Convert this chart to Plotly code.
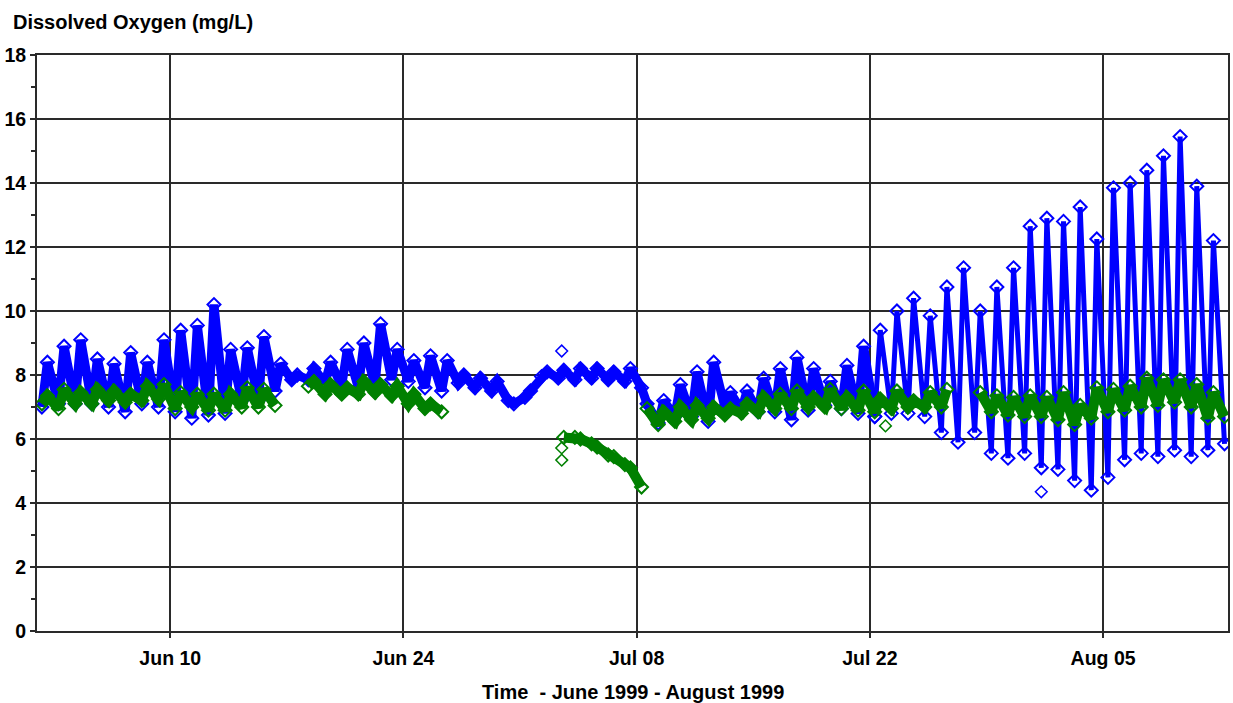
import datetime as dt
import plotly.graph_objects as go

# Daily readings, one pair per day starting 2 June 1999:
# the early-morning low (about 07:00) and the afternoon high (about 15:00).
START = dt.datetime(1999, 6, 2)

blue_low = [7.0, 7.1, 7.1, 7.1, 7.0, 6.85, 7.1, 7.0, 6.85, 6.65,
            6.75, 6.8, 7.2, 7.2, 7.5, 7.85, 7.85, 7.75, 7.65, 7.6,
            7.65, 7.85, 7.8, 7.6, 7.5, 7.75, 7.6, 7.5, 7.2, 7.3,
            7.95, 7.9, 7.85, 7.9, 7.85, 7.8, 7.6, 6.5, 6.7, 6.7,
            6.55, 7.0, 6.9, 6.85, 6.85, 6.6, 6.9, 7.05, 6.95, 6.8,
            6.7, 6.8, 6.8, 6.7, 6.2, 5.9, 6.2, 5.55, 5.4, 5.55,
            5.1, 5.05, 4.7, 4.4, 4.8, 5.35, 5.55, 5.45, 5.65, 5.45,
            5.65, 5.85]
blue_high = [8.4, 8.9, 9.1, 8.5, 8.35, 8.7, 8.4, 9.1, 9.4, 9.55,
             10.2, 8.8, 8.85, 9.2, 8.35, 8.0, 8.2, 8.4, 8.8, 9.0,
             9.6, 8.8, 8.45, 8.6, 8.45, 8.0, 7.9, 7.8, 7.1, 7.5,
             8.1, 8.15, 8.2, 8.2, 8.1, 8.2, 7.1, 7.2, 7.7, 8.1,
             8.4, 7.45, 7.5, 7.9, 8.2, 8.55, 8.2, 7.8, 8.3, 8.9,
             9.4, 10.0, 10.4, 9.85, 10.75, 11.35, 10.0, 10.75, 11.35, 12.65,
             12.9, 12.8, 13.25, 12.25, 13.85, 14.0, 14.4, 14.85, 15.45, 13.9,
             12.2, None]

green_low = [7.1, 6.95, 7.1, 7.1, 7.2, 7.15, 7.2, 7.25, 6.95, 7.0,
             6.9, 6.9, 7.0, 7.0, 7.05, None, 7.65, 7.4, 7.4, 7.4,
             7.45, 7.35, 7.1, 6.95, 6.85, None, None, None, None, None,
             None, None, 6.05, 5.85, 5.5, 5.2, 4.5, 6.45, 6.55, 6.6,
             6.65, 6.75, 6.8, 6.85, 6.95, 6.95, 7.0, 7.0, 6.95, 6.9,
             6.85, 6.95, 7.0, 7.0, 7.0, None, None, 6.85, 6.75, 6.7,
             6.7, 6.6, 6.45, 6.65, 6.85, 6.9, 7.0, 7.05, 7.15, 7.0,
             6.65, 6.7]
green_high = [7.35, 7.55, 7.45, 7.55, 7.5, 7.4, 7.65, 7.7, 7.45, 7.4,
              7.4, 7.4, 7.6, 7.55, None, None, 7.8, 7.7, 7.6, 7.8,
              7.7, 7.65, 7.4, 7.1, None, None, None, None, None, None,
              None, 6.05, 6.0, 5.75, 5.45, 5.1, 6.95, 6.85, 7.0, 7.05,
              7.0, 6.95, 7.1, 7.3, 7.4, 7.5, 7.3, 7.55, 7.3, 7.5,
              7.25, 7.5, 7.2, 7.45, 7.55, None, 7.45, 7.35, 7.3, 7.35,
              7.3, 7.45, 7.05, 7.6, 7.55, 7.65, 7.9, 7.85, 7.85, 7.7,
              7.45, None]
# the green record restarts on the afternoon of day 36 (8 July)
green_breaks = [(36, "high")]

# isolated readings
blue_extra_t = ["1999-07-03 12:00", "1999-08-01 07:00"]
blue_extra_v = [8.75, 4.35]
green_extra_t = ["1999-07-03 12:00", "1999-07-03 12:00", "1999-07-22 22:30"]
green_extra_v = [5.72, 5.34, 6.41]

tick_dates = ["1999-06-10", "1999-06-24", "1999-07-08", "1999-07-22", "1999-08-05"]
tick_text = ["Jun 10", "Jun 24", "Jul 08", "Jul 22", "Aug 05"]

# the wide diel swings from 22 July on are drawn with a lighter stroke
SWING_DAY = 50


def series(lows, highs, breaks=(), first=0, last=None):
    xs, ys = [], []
    last = len(lows) if last is None else last
    for d in range(first, last):
        for slot, hour, v in (("low", 7, lows[d]), ("high", 15, highs[d])):
            if (d, slot) in breaks:
                xs.append(None)
                ys.append(None)
            xs.append(START + dt.timedelta(days=d, hours=hour))
            ys.append(v)
    return xs, ys


BLUE = "#0000ff"
GREEN = "#008000"
FONT = "Liberation Sans, Arial, sans-serif"

fig = go.Figure()


def add_band(xs, ys, col, width, msize):
    fig.add_trace(go.Scatter(
        x=xs, y=ys, mode="lines+markers", connectgaps=False,
        line=dict(color=col, width=width, shape="linear"),
        marker=dict(symbol="diamond-open", size=msize, color=col,
                    line=dict(width=2, color=col)),
        showlegend=False, hoverinfo="skip"))


bx, by = series(blue_low, blue_high, last=SWING_DAY + 1)
add_band(bx[:-1], by[:-1], BLUE, 9, 10)
bx, by = series(blue_low, blue_high, first=SWING_DAY)
add_band(bx, by, BLUE, 5, 10)

gx, gy = series(green_low, green_high, green_breaks)
add_band(gx, gy, GREEN, 10, 10)

for (ts, vs, col) in ((blue_extra_t, blue_extra_v, BLUE),
                      (green_extra_t, green_extra_v, GREEN)):
    fig.add_trace(go.Scatter(
        x=ts, y=vs, mode="markers",
        marker=dict(symbol="diamond-open", size=9, color=col,
                    line=dict(width=1.5, color=col)),
        showlegend=False, hoverinfo="skip"))

axis_col = "#2a2a2a"
fig.update_xaxes(
    type="date", range=["1999-06-02", "1999-08-12 12:00"],
    tickvals=tick_dates, ticktext=tick_text,
    showgrid=True, gridcolor=axis_col, gridwidth=1.5,
    showline=True, linecolor=axis_col, linewidth=2, mirror=True,
    ticks="outside", ticklen=5, tickcolor=axis_col, tickwidth=1.5,
    ticklabelstandoff=4,
    tickfont=dict(family=FONT, size=19.5, color="black", weight="bold"),
    zeroline=False)
fig.update_yaxes(
    range=[0, 18], dtick=2, tick0=0,
    showgrid=True, gridcolor=axis_col, gridwidth=1.5,
    showline=True, linecolor=axis_col, linewidth=2, mirror=True,
    ticks="outside", ticklen=5, tickcolor=axis_col, tickwidth=1.5,
    minor=dict(dtick=1, ticks="outside", ticklen=4, tickcolor=axis_col,
               showgrid=False),
    tickfont=dict(family=FONT, size=19.5, color="black", weight="bold"),
    zeroline=False)

fig.add_annotation(
    text="<b>Dissolved Oxygen (mg/L)</b>", xref="paper", yref="paper",
    x=0, y=1, xanchor="left", yanchor="middle", xshift=-26, yshift=33,
    showarrow=False, font=dict(family=FONT, size=20, color="black"))
fig.add_annotation(
    text="<b>Time\u00a0 - June 1999 - August 1999</b>", xref="paper", yref="paper",
    x=0.5, y=0, xanchor="center", yanchor="middle", yshift=-61,
    showarrow=False, font=dict(family=FONT, size=20, color="black"))

fig.update_layout(
    width=1233, height=703,
    margin=dict(l=37, r=3, t=55, b=72),
    paper_bgcolor="white", plot_bgcolor="white",
)

fig.write_html("out.html")
